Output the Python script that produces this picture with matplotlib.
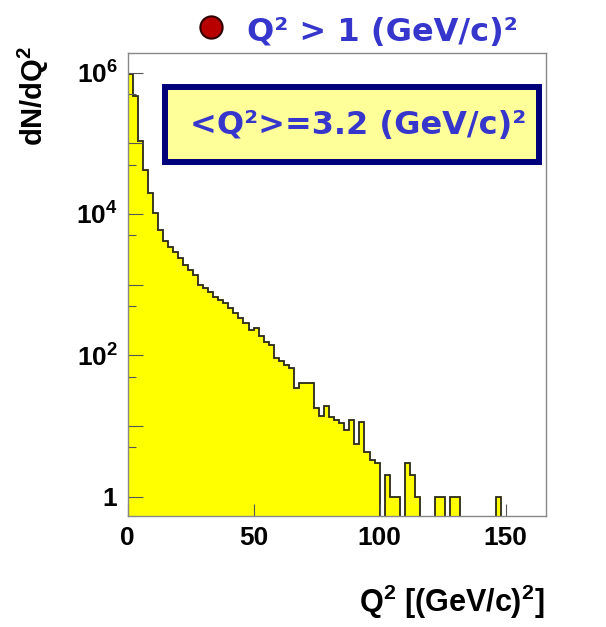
import numpy as np
import matplotlib
matplotlib.use("Agg")
import matplotlib.pyplot as plt
from matplotlib.patches import Rectangle
from matplotlib.lines import Line2D
from matplotlib.ticker import FixedLocator, FixedFormatter, NullFormatter

plt.rcParams['font.family'] = ['Liberation Sans', 'DejaVu Sans']
plt.rcParams['mathtext.default'] = 'regular'

# Q^2 histogram, 2 (GeV/c)^2 bins from 0 to 166
bin_width = 2
n_bins = 83
counts = np.zeros(n_bins)
# bins 0..49 (0 - 100 GeV^2)
counts[:50] = [9.5e5, 4.6e5, 1.07e5, 4.2e4, 2.0e4, 1.04e4, 6.0e3, 4.2e3, 3.4e3, 2.9e3,
               2.35e3, 1.9e3, 1.6e3, 1.37e3, 1.0e3, 890, 790, 675, 605, 545,
               460, 395, 335, 285, 230, 245, 185, 155, 140, 92,
               82, 73, 67, 34, 40, 41, 40, 18, 14, 19,
               13.5, 12, 11, 8.8, 12, 5.5, 11.5, 4.3, 3.3, 3]
# sparse tail: bin index -> entries
tail = {51: 2, 52: 1, 53: 1, 55: 3, 56: 2, 57: 1, 61: 1, 62: 1, 64: 1, 65: 1, 73: 1}
for k, v in tail.items():
    counts[k] = v
edges = np.arange(n_bins + 1) * bin_width

x_ticks = [0, 50, 100, 150]
y_major = [1, 1e1, 1e2, 1e3, 1e4, 1e5, 1e6]
y_labels = [r'$1$', '', r'$10^{2}$', '', r'$10^{4}$', '', r'$10^{6}$']
y_minor = [5, 50, 500, 5e3, 5e4, 5e5]

floor = 1e-3
vals = np.where(counts > 0, counts, floor)

fig = plt.figure(figsize=(6.06, 6.27), dpi=100)
ax = fig.add_axes([0.2104, 0.177, 0.6906, 0.7384])

ax.stairs(vals, edges, baseline=floor, fill=True, color='#ffff00', zorder=1)
ax.stairs(vals, edges, baseline=floor, color='#2a2a1a', linewidth=1.3, zorder=1.5)

ax.set_yscale('log')
ax.set_xlim(0, 166)
ax.set_ylim(0.533, 1.89e6)

ax.xaxis.set_major_locator(FixedLocator(x_ticks))
ax.yaxis.set_major_locator(FixedLocator(y_major))
ax.yaxis.set_major_formatter(FixedFormatter(y_labels))
ax.yaxis.set_minor_locator(FixedLocator(y_minor))
ax.yaxis.set_minor_formatter(NullFormatter())
ax.xaxis.set_minor_locator(FixedLocator([]))

ax.tick_params(axis='both', which='both', direction='in', colors='#555555',
               labelcolor='black', width=0.8, labelsize=19, pad=7)
ax.tick_params(axis='y', which='major', length=10.5)
ax.tick_params(axis='y', which='minor', length=5.5)
ax.tick_params(axis='x', which='major', length=8.5)
for lab in ax.get_xticklabels() + ax.get_yticklabels():
    lab.set_fontweight('bold')

for s in ax.spines.values():
    s.set_color('#888888')
    s.set_linewidth(1)
    s.set_zorder(3)

fig.text(545 / 606, 1 - 602 / 627, r'Q$^{2}$ [(GeV/c)$^{2}$]', ha='right', va='center',
         fontsize=22, fontweight='bold')
fig.text(33 / 606, 1 - 46 / 627, r'dN/dQ$^{2}$', rotation=90, ha='center', va='top',
         fontsize=21, fontweight='bold')

# top label with red ball
fig.add_artist(Line2D([211 / 606], [1 - 27 / 627], marker='o', markersize=16,
                      markerfacecolor='#b80000', markeredgecolor='#300000',
                      markeredgewidth=1.5, transform=fig.transFigure))
fig.text(247 / 606, 1 - 41 / 627, 'Q² > 1 (GeV/c)²', ha='left', va='baseline',
         fontsize=23, fontweight='bold', color='#3636cc', family='DejaVu Sans')

# mean Q^2 box
fig.add_artist(Rectangle((165 / 606, 1 - 162 / 627), 374 / 606, 75 / 627,
                         transform=fig.transFigure, facecolor='#ffff99',
                         edgecolor='#00007a', linewidth=4.3, zorder=5))
fig.text(190 / 606, 1 - 126 / 627, '<Q²>=3.2 (GeV/c)²', ha='left', va='center',
         fontsize=23, fontweight='bold', color='#3636cc', family='DejaVu Sans',
         zorder=6)

fig.savefig('out.png', dpi=100)
